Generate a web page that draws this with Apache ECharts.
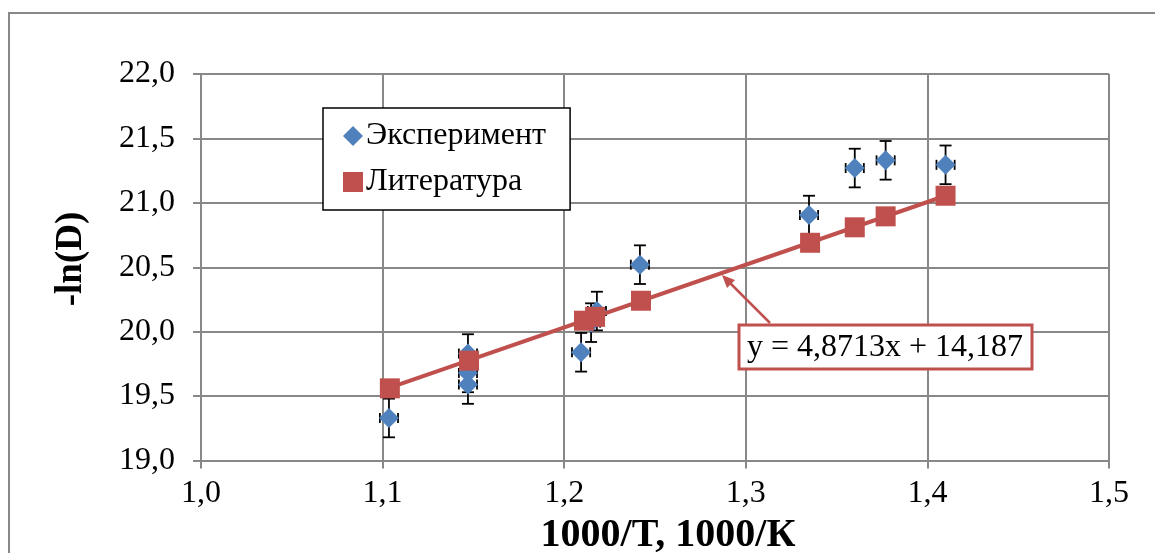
<!DOCTYPE html>
<html>
<head>
<meta charset="utf-8">
<script src="https://cdn.jsdelivr.net/npm/echarts@6/dist/echarts.min.js"></script>
<style>
html,body{margin:0;padding:0;background:#fff;}
#c{width:1155px;height:553px;}
</style>
</head>
<body>
<div id="c"></div>
<script>
// ---- data ----
const seriesNames = ['Эксперимент', 'Литература'];
const expX = [1.1035, 1.147, 1.147, 1.147, 1.2093, 1.2148, 1.218, 1.2417, 1.3348, 1.360, 1.377, 1.410];
const expY = [19.33, 19.83, 19.68, 19.59, 19.84, 20.07, 20.16, 20.52, 20.905, 21.27, 21.33, 21.295];
const expErrX = 0.005;
const expErrY = 0.15;
const litX = [1.104, 1.1476, 1.2109, 1.217, 1.2423, 1.3354, 1.360, 1.377, 1.410];
const litY = [19.56, 19.775, 20.085, 20.115, 20.24, 20.69, 20.81, 20.895, 21.055];
const trendX = [1.104, 1.410];
const trendY = [19.565, 21.055];
const equationText = 'y = 4,8713x + 14,187';
const xTicks = [1.0, 1.1, 1.2, 1.3, 1.4, 1.5];
const yTicks = [19.0, 19.5, 20.0, 20.5, 21.0, 21.5, 22.0];
const xTitle = '1000/T, 1000/К';
const yTitle = '-ln(D)';

const BLUE = '#4F81BD', RED = '#C0504D', GRID = '#888888';
const FONT = '"Liberation Serif", "Times New Roman", serif';
const fmt = v => v.toFixed(1).replace('.', ',');

const expData = expX.map((x, i) => [x, expY[i]]);
const errData = expX.map((x, i) => [x, expY[i], expErrX, expErrY]);
const litData = litX.map((x, i) => [x, litY[i]]);
const trendData = trendX.map((x, i) => [x, trendY[i]]);

const chart = echarts.init(document.getElementById('c'), null, {renderer: 'canvas'});
chart.setOption({
  animation: false,
  backgroundColor: '#fff',
  grid: {left: 201, top: 74, right: 46, bottom: 92.5, containLabel: false},
  xAxis: {
    type: 'value', min: xTicks[0], max: xTicks[xTicks.length - 1], interval: 0.1,
    axisLine: {show: true, lineStyle: {color: GRID, width: 2}},
    axisTick: {show: true, length: 8, lineStyle: {color: GRID, width: 2}},
    splitLine: {show: true, lineStyle: {color: GRID, width: 2}},
    axisLabel: {formatter: fmt, fontFamily: FONT, fontSize: 32, color: '#000', margin: 17}
  },
  yAxis: {
    type: 'value', min: yTicks[0], max: yTicks[yTicks.length - 1], interval: 0.5,
    axisLine: {show: true, lineStyle: {color: GRID, width: 2}},
    axisTick: {show: true, length: 8, lineStyle: {color: GRID, width: 2}},
    splitLine: {show: true, lineStyle: {color: GRID, width: 2}},
    axisLabel: {formatter: fmt, fontFamily: FONT, fontSize: 32, color: '#000', margin: 26}
  },
  legend: {
    left: 323, top: 108, orient: 'vertical',
    width: 245,
    borderColor: '#000', borderWidth: 1.5, backgroundColor: '#fff',
    padding: [12, 24, 12, 20],
    itemGap: 14, itemWidth: 20, itemHeight: 20,
    textStyle: {fontFamily: FONT, fontSize: 32, color: '#000', padding: [0, 0, 0, -2]},
    data: [
      {name: seriesNames[0], icon: 'diamond', itemStyle: {color: BLUE}},
      {name: seriesNames[1], icon: 'rect', itemStyle: {color: RED}}
    ]
  },
  series: [
    {
      type: 'custom', name: 'err', z: 1, silent: true,
      data: errData,
      renderItem: function (params, api) {
        const x = api.value(0), y = api.value(1), ex = api.value(2), ey = api.value(3);
        const c = api.coord([x, y]);
        const t = api.coord([x, y + ey]), b = api.coord([x, y - ey]);
        const l = api.coord([x - ex, y]), r = api.coord([x + ex, y]);
        const st = {stroke: '#000', lineWidth: 1.8};
        const cw = 6, ch = 5;
        return {type: 'group', children: [
          {type: 'line', shape: {x1: c[0], y1: t[1], x2: c[0], y2: b[1]}, style: st},
          {type: 'line', shape: {x1: c[0] - cw, y1: t[1], x2: c[0] + cw, y2: t[1]}, style: st},
          {type: 'line', shape: {x1: c[0] - cw, y1: b[1], x2: c[0] + cw, y2: b[1]}, style: st},
          {type: 'line', shape: {x1: l[0], y1: c[1], x2: r[0], y2: c[1]}, style: st},
          {type: 'line', shape: {x1: l[0], y1: c[1] - ch, x2: l[0], y2: c[1] + ch}, style: st},
          {type: 'line', shape: {x1: r[0], y1: c[1] - ch, x2: r[0], y2: c[1] + ch}, style: st}
        ]};
      }
    },
    {
      type: 'scatter', name: seriesNames[0], z: 2,
      symbol: 'diamond', symbolSize: 20,
      itemStyle: {color: BLUE, opacity: 1},
      data: expData
    },
    {
      type: 'line', name: 'trend', z: 3, silent: true,
      showSymbol: false, symbol: 'none',
      lineStyle: {color: RED, width: 4},
      data: trendData
    },
    {
      type: 'scatter', name: seriesNames[1], z: 4,
      symbol: 'rect', symbolSize: 20,
      itemStyle: {color: RED, opacity: 1},
      data: litData
    }
  ],
  graphic: [
    {type: 'rect', z: -10, silent: true,
     shape: {x: 9, y: 13, width: 1170, height: 560},
     style: {fill: 'none', stroke: GRID, lineWidth: 2}},
    {type: 'text', z: 10, silent: true,
     style: {text: xTitle, x: 668, y: 536, align: 'center', verticalAlign: 'middle',
             font: 'bold 40px ' + FONT, fill: '#000'}},
    {type: 'text', z: 10, silent: true,
     x: 71, y: 259, rotation: Math.PI / 2,
     style: {text: yTitle, align: 'center', verticalAlign: 'middle',
             font: 'bold 37px ' + FONT, fill: '#000'}},
    {type: 'line', z: 20, silent: true,
     shape: {x1: 770, y1: 323, x2: 729, y2: 282},
     style: {stroke: RED, lineWidth: 2.5}},
    {type: 'polygon', z: 20, silent: true,
     shape: {points: [[722, 275], [735, 280], [727, 288]]},
     style: {fill: RED}},
    {type: 'rect', z: 20, silent: true,
     shape: {x: 739, y: 325, width: 293, height: 44},
     style: {fill: '#fff', stroke: RED, lineWidth: 3}},
    {type: 'text', z: 21, silent: true,
     style: {text: equationText, x: 885, y: 348, align: 'center', verticalAlign: 'middle',
             font: '32px ' + FONT, fill: '#000'}}
  ]
});
</script>
</body>
</html>
